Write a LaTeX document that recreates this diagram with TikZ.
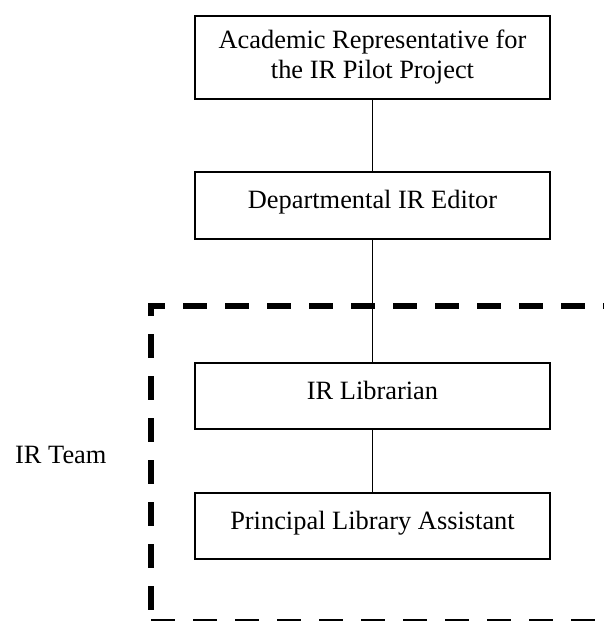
\documentclass[tikz,border=0pt]{standalone}
\usepackage{fontspec}
\setmainfont{Liberation Serif}
\usetikzlibrary{positioning}

\begin{document}
\begin{tikzpicture}[
        x=1pt, y=-1pt,
        post/.style={draw=black, line width=1.8pt, minimum width=355pt, inner sep=0pt, outer sep=0pt, align=center, font=\fontsize{26.4}{30}\selectfont},
        onerow/.style={minimum height=66pt, text height=18pt, text depth=12pt},
        link/.style={line width=1.6pt},
        teamline/.style={line width=5.6pt, dash pattern=on 24pt off 18pt},
        >=stealth
    ]
        % page size as in the original
        \useasboundingbox (0,0) rectangle (604,621);
        \clip (0,0) rectangle (604,621);

        % the posts, top to bottom
        \node[post, minimum height=83pt] (acad) at (372.5,57.5) {Academic Representative for\\the IR Pilot Project};
        \node[post, onerow, minimum height=67pt, below=73pt of acad] (editor) {Departmental IR Editor};
        \node[post, onerow, below=124pt of editor] (librarian) {IR Librarian};
        \node[post, onerow, below=64pt of librarian] (assistant) {Principal Library Assistant};

        % reporting lines
        \draw[link] (acad) -- (editor);
        \draw[link] (editor) -- (librarian);
        \draw[link] (librarian) -- (assistant);

        % dashed frame round the team (runs off the page to the right)
        \draw[teamline] (151,316) -- (151,306) -- (640,306);
        \draw[teamline, dash phase=24pt] (151,316) -- (151,640);
        \draw[teamline] (151,622) -- (640,622);

        \node[anchor=base west, inner sep=0pt, font=\fontsize{26.4}{30}\selectfont] (team) at (15,463) {IR Team};
    \end{tikzpicture}
\end{document}
